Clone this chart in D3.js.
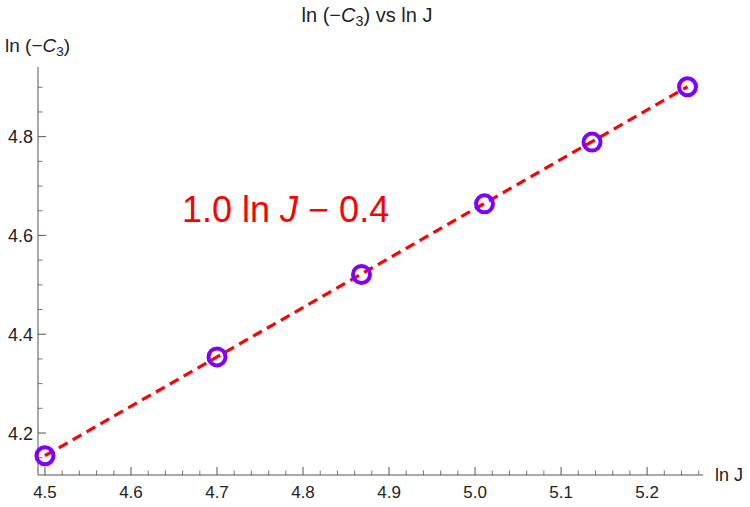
<!DOCTYPE html>
<html>
<head>
<meta charset="utf-8">
<script src="https://cdn.jsdelivr.net/npm/d3@7"></script>
<style>
  body { margin: 0; background: #fff; }
  text { font-family: "Liberation Sans", Arial, sans-serif; }
</style>
</head>
<body>
<script>
// data: ln J against ln(-C3)
var lnJ = [4.500, 4.700, 4.868, 5.011, 5.136, 5.247];
var lnC3 = [4.154, 4.354, 4.521, 4.664, 4.789, 4.901];
// fitted line, drawn between the first and last points
var fitSlope = 1.0, fitIntercept = -0.346;
var xTicks = [4.5, 4.6, 4.7, 4.8, 4.9, 5.0, 5.1, 5.2];
var yTicks = [4.2, 4.4, 4.6, 4.8];

var width = 750, height = 507;

var svg = d3.select('body')
    .append('svg')
    .attr('width', width)
    .attr('height', height);

var x = d3.scaleLinear().domain([4.4919, 5.265]).range([38, 703]);
var y = d3.scaleLinear().domain([4.115, 4.941]).range([475, 67]);

var axisColor = '#555';
var textColor = '#222';

// minor ticks
var xMinor = d3.range(4.5, 5.261, 0.02).filter(function(v){ return Math.abs(v * 10 - Math.round(v * 10)) > 1e-6; });
var yMinor = d3.range(4.15, 4.941, 0.05).filter(function(v){ return Math.abs(v * 5 - Math.round(v * 5)) > 1e-6; });

var xAxis = svg.append('g');
xAxis.append('line')
    .attr('x1', 38).attr('x2', 703)
    .attr('y1', 475).attr('y2', 475)
    .attr('stroke', axisColor).attr('stroke-width', 1);
xAxis.selectAll('.major').data(xTicks).enter().append('line')
    .attr('x1', function(d){ return x(d); }).attr('x2', function(d){ return x(d); })
    .attr('y1', 475).attr('y2', 467)
    .attr('stroke', axisColor);
xAxis.selectAll('.minor').data(xMinor).enter().append('line')
    .attr('x1', function(d){ return x(d); }).attr('x2', function(d){ return x(d); })
    .attr('y1', 475).attr('y2', 470.5)
    .attr('stroke', axisColor).attr('stroke-width', 0.8);
xAxis.selectAll('text').data(xTicks).enter().append('text')
    .attr('x', function(d){ return x(d); })
    .attr('y', 498)
    .attr('text-anchor', 'middle')
    .attr('font-size', 17)
    .attr('fill', textColor)
    .text(function(d){ return d.toFixed(1); });

var yAxis = svg.append('g');
yAxis.append('line')
    .attr('x1', 38).attr('x2', 38)
    .attr('y1', 67).attr('y2', 475)
    .attr('stroke', axisColor).attr('stroke-width', 1);
yAxis.selectAll('.major').data(yTicks).enter().append('line')
    .attr('x1', 38).attr('x2', 46)
    .attr('y1', function(d){ return y(d); }).attr('y2', function(d){ return y(d); })
    .attr('stroke', axisColor);
yAxis.selectAll('.minor').data(yMinor).enter().append('line')
    .attr('x1', 38).attr('x2', 42.5)
    .attr('y1', function(d){ return y(d); }).attr('y2', function(d){ return y(d); })
    .attr('stroke', axisColor).attr('stroke-width', 0.8);
yAxis.selectAll('text').data(yTicks).enter().append('text')
    .attr('x', 33)
    .attr('y', function(d){ return y(d) + 6.5; })
    .attr('text-anchor', 'end')
    .attr('font-size', 18)
    .attr('fill', textColor)
    .text(function(d){ return d.toFixed(1); });

// axis labels and title
function lnC3Label(sel) {
    sel.append('tspan').text('ln (\u2212');
    sel.append('tspan').attr('font-style', 'italic').text('C');
    sel.append('tspan').attr('font-size', '0.72em').attr('dy', 4).text('3');
    sel.append('tspan').attr('dy', -4).text(')');
}

var title = svg.append('text')
    .attr('x', 367).attr('y', 22)
    .attr('text-anchor', 'middle')
    .attr('font-size', 20)
    .attr('fill', textColor);
lnC3Label(title);
title.append('tspan').text(' vs ln J');

var yLabel = svg.append('text')
    .attr('x', 5).attr('y', 52)
    .attr('font-size', 19)
    .attr('fill', textColor);
lnC3Label(yLabel);

svg.append('text')
    .attr('x', 715).attr('y', 481)
    .attr('font-size', 18)
    .attr('fill', textColor)
    .text('ln J');

// fit line
var x0 = d3.min(lnJ), x1 = d3.max(lnJ);
svg.append('line')
    .attr('x1', x(x0)).attr('y1', y(fitSlope * x0 + fitIntercept))
    .attr('x2', x(x1)).attr('y2', y(fitSlope * x1 + fitIntercept))
    .attr('stroke', '#ff0000')
    .attr('stroke-width', 3.2)
    .attr('stroke-dasharray', '10,6');

// points
svg.selectAll('circle').data(lnJ).enter().append('circle')
    .attr('cx', function(d){ return x(d); })
    .attr('cy', function(d, i){ return y(lnC3[i]); })
    .attr('r', 8.5)
    .attr('fill', 'none')
    .attr('stroke', '#7f00ff')
    .attr('stroke-width', 4);

// fit annotation
var ann = svg.append('text')
    .attr('x', 182).attr('y', 222)
    .attr('font-size', 36)
    .attr('fill', '#ff0000');
ann.append('tspan').text('1.0 ln ');
ann.append('tspan').attr('font-style', 'italic').text('J');
ann.append('tspan').text(' \u2212 0.4');
</script>
</body>
</html>
